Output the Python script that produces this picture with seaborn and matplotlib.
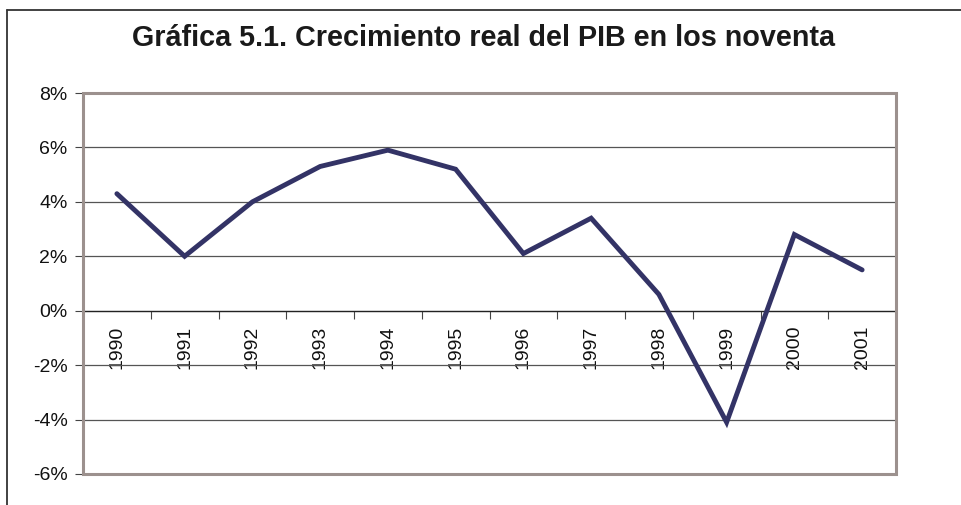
import matplotlib
matplotlib.use("Agg")
import matplotlib.pyplot as plt
import seaborn as sns
import pandas as pd
from matplotlib.lines import Line2D
from matplotlib.patches import Rectangle
from matplotlib.ticker import FuncFormatter, FixedLocator

years = ["1990", "1991", "1992", "1993", "1994", "1995", "1996", "1997", "1998", "1999", "2000", "2001"]
growth = [4.3, 2.0, 4.0, 5.3, 5.9, 5.2, 2.1, 3.4, 0.6, -4.1, 2.8, 1.5]
title = "Gráfica 5.1. Crecimiento real del PIB en los noventa"

sns.set_theme(style="white")
plt.rcParams["font.family"] = ["Liberation Sans", "DejaVu Sans"]

W, H = 962, 505
fig = plt.figure(figsize=(W / 100, H / 100), dpi=100)
fig.patch.set_facecolor("white")
ax = fig.add_axes([83 / W, 1 - 474 / H, (896 - 83) / W, (474 - 93) / H])

df = pd.DataFrame({"year": years, "growth": growth})
sns.lineplot(data=df, x="year", y="growth", ax=ax, color="#333366", linewidth=3.5,
             sort=False, solid_joinstyle="miter", zorder=5)

ax.set_xlim(-0.5, len(years) - 0.5)
ax.set_ylim(-6, 8)
ax.set_xlabel("")
ax.set_ylabel("")

# y axis
ax.set_yticks([-6, -4, -2, 0, 2, 4, 6, 8])
ax.yaxis.set_major_formatter(FuncFormatter(lambda v, p: f"{int(round(v))}%"))
ax.tick_params(axis="y", which="major", length=6, width=0.8, color="#444444",
               direction="out", labelsize=14, labelcolor="#111111", pad=5, left=True)
ax.grid(axis="y", color="#555555", linewidth=0.9, zorder=1)
ax.grid(axis="x", visible=False)

# category axis crossing at zero
for s in ["top", "right", "left"]:
    ax.spines[s].set_visible(False)
ax.spines["bottom"].set_position(("data", 0))
ax.spines["bottom"].set_color("#222222")
ax.spines["bottom"].set_linewidth(0.9)
ax.set_xticks(range(len(years)))
ax.set_xticklabels(years, rotation=90, fontsize=14, color="#111111")
ax.xaxis.set_minor_locator(FixedLocator([i - 0.5 for i in range(len(years) + 1)]))
ax.tick_params(axis="x", which="major", length=0, pad=11, bottom=True)
ax.tick_params(axis="x", which="minor", length=6, width=0.8, color="#444444",
               direction="out", bottom=True)
for lbl in ax.get_xticklabels():
    lbl.set_va("top")
    lbl.set_ha("center")

# plot border
ax.add_patch(Rectangle((0, 0), 1, 1, transform=ax.transAxes, fill=False,
                       edgecolor="#9c918e", linewidth=2.2, zorder=6, clip_on=False))

# outer chart border (left and top)
fig.add_artist(Line2D([7 / W, 7 / W], [0, 1 - 9.5 / H], color="#333333", linewidth=1.3))
fig.add_artist(Line2D([7 / W, 1], [1 - 9.5 / H, 1 - 9.5 / H], color="#333333", linewidth=1.3))

fig.text(484 / W, 1 - 38 / H, title, ha="center", va="center",
         fontsize=20.7, fontweight="bold", color="#1a1a1a")

fig.savefig("out.png", dpi=100, facecolor="white")
